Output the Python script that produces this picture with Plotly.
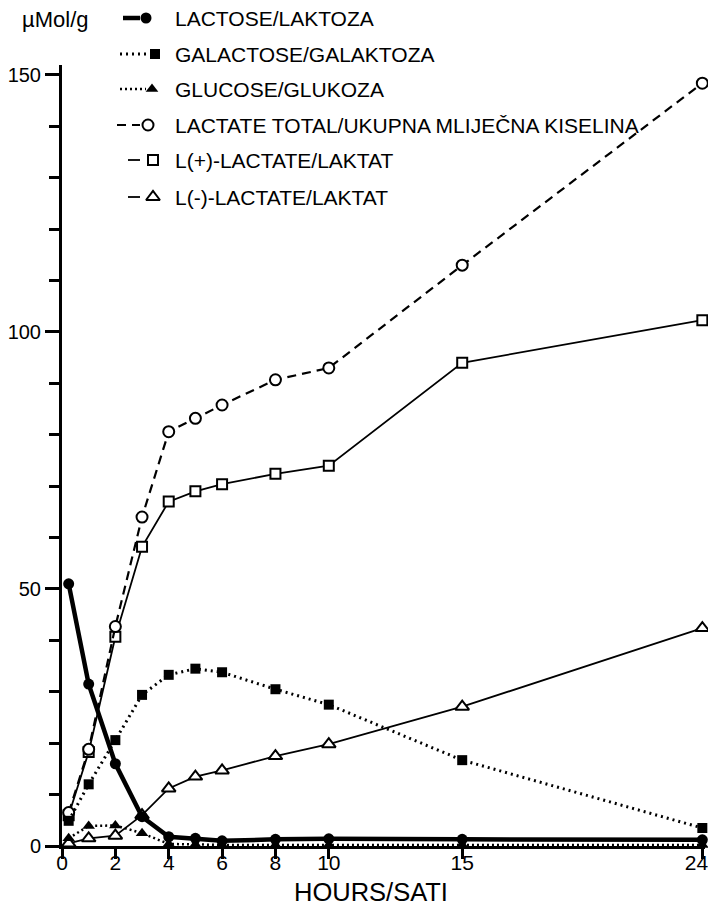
import plotly.graph_objects as go

# ---------------- data ----------------
hours = [0.25, 1, 2, 3, 4, 5, 6, 8, 10, 15, 24]
lactose = [51, 31.5, 16, 5.7, 1.8, 1.5, 1.0, 1.3, 1.4, 1.3, 1.2]
galactose = [4.9, 12, 20.6, 29.4, 33.3, 34.5, 33.8, 30.5, 27.5, 16.7, 3.5]
glucose = [1.5, 3.9, 4.0, 2.5, 0.4, 0.3, 0.2, 0.2, 0.2, 0.2, 0.2]
lactate_total = [6.5, 18.8, 42.7, 64, 80.6, 83.2, 85.8, 90.7, 93, 113, 148.4]
l_plus = [6, 18.3, 40.7, 58.2, 67, 69, 70.4, 72.4, 74, 94, 102.3]
l_minus = [0.5, 1.5, 2.0, 6.0, 11.2, 13.5, 14.7, 17.5, 19.8, 27.1, 42.4]

names = ["LACTOSE/LAKTOZA", "GALACTOSE/GALAKTOZA", "GLUCOSE/GLUKOZA",
         "LACTATE TOTAL/UKUPNA MLIJEČNA KISELINA", "L(+)-LACTATE/LAKTAT",
         "L(-)-LACTATE/LAKTAT"]
series = [lactose, galactose, glucose, lactate_total, l_plus, l_minus]

x_tickvals = [0, 2, 4, 6, 8, 10, 15, 24]
x_ticktext = ["0", "2", "4", "6", "8", "10", "15", "24\u00a0\u00a0"]
y_tickvals = [0, 50, 100, 150]

# ---------------- geometry (page pixels; body has an 8px margin) ----------------
OFF = 8
W, H = 708, 900
FONT = "Liberation Sans, Arial, sans-serif"

styles = [
    dict(line=dict(color="black", width=4.5),
         marker=dict(symbol="circle", size=11, color="black")),
    dict(line=dict(color="black", width=3, dash="2px,4px"),
         marker=dict(symbol="square", size=10, color="black")),
    dict(line=dict(color="black", width=2.5, dash="2px,3px"),
         marker=dict(symbol="triangle-up", size=11, color="black")),
    dict(line=dict(color="black", width=2.2, dash="9px,6px"),
         marker=dict(symbol="circle", size=11, color="white",
                     line=dict(color="black", width=2))),
    dict(line=dict(color="black", width=1.8),
         marker=dict(symbol="square", size=10, color="white",
                     line=dict(color="black", width=2))),
    dict(line=dict(color="black", width=1.8),
         marker=dict(symbol="triangle-up", size=12, color="white",
                     line=dict(color="black", width=2))),
]

fig = go.Figure()
order = [5, 4, 3, 2, 1, 0]
for i in order:
    fig.add_trace(go.Scatter(x=hours, y=series[i], mode="lines+markers",
                             name=names[i], line=styles[i]["line"],
                             marker=styles[i]["marker"], cliponaxis=False,
                             showlegend=False))

# ---------------- manual legend (page-pixel overlay axes) ----------------
leg_rows = [18, 54, 89, 125, 160, 197]
leg_line = [(123, 140), (120, 148), (120, 146), (117, 140), (128, 140), (128, 140)]
leg_mark = [146, 155, 152, 148, 153, 153]
leg_text_x = 173
for i in range(6):
    st = styles[i]
    fig.add_trace(go.Scatter(x=list(leg_line[i]), y=[leg_rows[i]] * 2, mode="lines",
                             line=st["line"], xaxis="x2", yaxis="y2",
                             showlegend=False, hoverinfo="skip"))
    fig.add_trace(go.Scatter(x=[leg_mark[i]], y=[leg_rows[i]], mode="markers",
                             marker=st["marker"], xaxis="x2", yaxis="y2",
                             showlegend=False, hoverinfo="skip", cliponaxis=False))
    fig.add_annotation(x=leg_text_x, y=leg_rows[i], xref="x2", yref="y2",
                       text=names[i], showarrow=False, xanchor="left",
                       yanchor="middle", font=dict(size=21, color="black", family=FONT))

fig.add_annotation(x=20, y=19, xref="x2", yref="y2", text="µMol/g", showarrow=False,
                   xanchor="left", yanchor="middle",
                   font=dict(size=22, color="black", family=FONT))
fig.add_annotation(x=371, y=892, xref="x2", yref="y2", text="HOURS/SATI", showarrow=False,
                   xanchor="center", yanchor="middle",
                   font=dict(size=25.5, color="black", family=FONT))

x_left, x_right = 62 - OFF, 705 - OFF
y_bottom, y_top = 846 - OFF, 64.7 - OFF

fig.update_layout(
    width=W, height=H,
    margin=dict(l=0, r=0, t=0, b=0, autoexpand=False),
    paper_bgcolor="white", plot_bgcolor="rgba(0,0,0,0)",
    font=dict(family=FONT, color="black"),
    xaxis=dict(domain=[x_left / W, x_right / W], range=[0, 24.1],
               tickvals=x_tickvals, ticktext=x_ticktext,
               ticks="outside", ticklen=10, tickwidth=2.5,
               tickcolor="black", showline=True, linewidth=3, linecolor="black",
               showgrid=False, zeroline=False, tickfont=dict(size=21),
               ticklabelstandoff=-14, ticklabeloverflow="allow", anchor="y"),
    yaxis=dict(domain=[1 - y_bottom / H, 1 - y_top / H], range=[0, 152],
               tickvals=y_tickvals, ticks="outside", ticklen=14, tickwidth=2.5,
               tickcolor="black", showline=True, linewidth=3, linecolor="black",
               showgrid=False, zeroline=False, tickfont=dict(size=20),
               ticklabeloverflow="allow",
               minor=dict(dtick=10, tick0=0, ticks="outside", ticklen=10,
                          tickwidth=2.5, tickcolor="black", showgrid=False),
               anchor="x"),
    xaxis2=dict(domain=[0, 1], range=[OFF, OFF + W], visible=False, anchor="y2",
                fixedrange=True),
    yaxis2=dict(domain=[0, 1], range=[OFF + H, OFF], visible=False, anchor="x2",
                fixedrange=True),
    showlegend=False,
)

fig.write_html("out.html",
               post_script="document.documentElement.style.overflow='hidden';")
